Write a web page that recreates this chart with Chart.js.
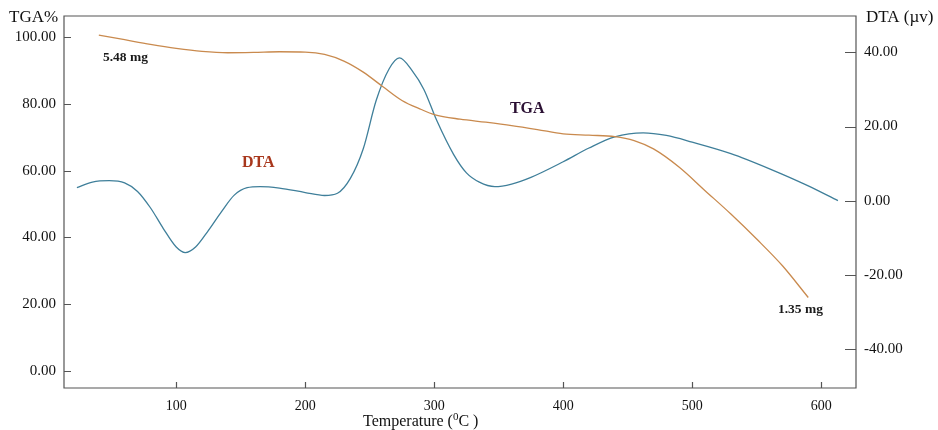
<!DOCTYPE html>
<html><head><meta charset="utf-8">
<script src="https://cdn.jsdelivr.net/npm/chart.js@4/dist/chart.umd.min.js"></script>
<style>html,body{margin:0;padding:0;background:#fff}#wrap{width:938px;height:430px;position:relative}</style>
</head><body><div id="wrap"><canvas id="c" width="938" height="430"></canvas></div>
<script>
const tgaTemp = [40,60,80,100,120,140,160,180,200,215,230,245,260,275,290,300,320,340,360,380,400,420,440,455,470,490,510,530,550,570,590];
const tgaVals = [100.6,99.2,97.8,96.6,95.7,95.3,95.4,95.6,95.5,94.8,92.8,89.5,85.2,81,78.3,76.8,75.4,74.5,73.5,72.3,71,70.6,70.2,69,66.5,61,54,47,39.5,31.5,22];
const dtaTemp = [23,35,48,60,70,80,90,100,107,115,125,135,145,155,165,180,200,215,225,235,245,255,265,273,283,292,302,315,325,335,347,360,375,400,420,440,462,480,500,530,560,590,613];
const dtaVals = [3.5,5,5.4,4.8,2.5,-1.9,-7.5,-12.5,-14,-12.5,-8,-3,1.5,3.5,3.8,3.4,2.2,1.4,2.0,6,14,27,35.5,38.5,35,30,21.6,12.5,7.5,5,3.8,4.5,6.3,10.5,14.2,17.2,18.3,17.6,15.8,12.7,8.6,4,0];
const xTicks = [100,200,300,400,500,600];
const leftTicks = [0,20,40,60,80,100];
const rightTicks = [-40,-20,0,20,40];
const notes = [
  {text:'5.48 mg', x:43.2, y:94, color:'#1a1a1a', size:13.5},
  {text:'DTA', x:151, y:62.3, color:'#a8371c', size:16},
  {text:'TGA', x:358.7, y:78.4, color:'#2b1033', size:16},
  {text:'1.35 mg', x:566.5, y:18.3, color:'#1a1a1a', size:13.5}
];

const SERIF = '"Liberation Serif","Times New Roman",serif';

const decor = {
  id:'decor',
  afterDraw(chart){
    const ctx = chart.ctx, a = chart.chartArea;
    const sx = chart.scales.x, sl = chart.scales.y, sr = chart.scales.y1;
    ctx.save();
    ctx.strokeStyle = '#555'; ctx.lineWidth = 1.2;
    ctx.beginPath();
    ctx.rect(a.left, a.top, a.right - a.left, a.bottom - a.top);
    ctx.stroke();
    ctx.beginPath();
    leftTicks.forEach(v=>{const y=Math.round(sl.getPixelForValue(v))+0.5; ctx.moveTo(a.left,y); ctx.lineTo(a.left+7,y);});
    rightTicks.forEach(v=>{const y=Math.round(sr.getPixelForValue(v))+0.5; ctx.moveTo(a.right,y); ctx.lineTo(a.right-11,y);});
    xTicks.forEach(v=>{const x=Math.round(sx.getPixelForValue(v))+0.5; ctx.moveTo(x,a.bottom); ctx.lineTo(x,a.bottom-6);});
    ctx.stroke();
    // annotations
    ctx.textBaseline = 'middle'; ctx.textAlign = 'left';
    notes.forEach(n=>{
      ctx.fillStyle = n.color;
      ctx.font = 'bold ' + n.size + 'px ' + SERIF;
      ctx.fillText(n.text, sx.getPixelForValue(n.x), sl.getPixelForValue(n.y));
    });
    // axis titles
    ctx.fillStyle = '#111';
    ctx.font = '17px ' + SERIF;
    ctx.fillText('TGA%', 9, 18);
    ctx.fillText('DTA (\u00b5v)', 866, 18);
    // x title with superscript
    ctx.font = '16px ' + SERIF;
    let x0 = 363, y0 = 422;
    const p1 = 'Temperature (';
    ctx.fillText(p1, x0, y0); x0 += ctx.measureText(p1).width;
    ctx.font = '11px ' + SERIF;
    ctx.fillText('0', x0, y0-5); x0 += ctx.measureText('0').width;
    ctx.font = '16px ' + SERIF;
    ctx.fillText('C )', x0, y0);
    ctx.restore();
  }
};

new Chart(document.getElementById('c'), {
  type:'line',
  data:{datasets:[
    {label:'TGA', yAxisID:'y', data: tgaTemp.map((t,i)=>({x:t,y:tgaVals[i]})), borderColor:'#c98a4e', borderWidth:1.3, pointRadius:0, tension:0.4, cubicInterpolationMode:'monotone', fill:false},
    {label:'DTA', yAxisID:'y1', data: dtaTemp.map((t,i)=>({x:t,y:dtaVals[i]})), borderColor:'#3f7f9a', borderWidth:1.3, pointRadius:0, tension:0.4, cubicInterpolationMode:'monotone', fill:false}
  ]},
  options:{
    responsive:false, animation:false, events:[],
    layout:{padding:{top:16,left:0,right:0,bottom:0}},
    plugins:{legend:{display:false}, tooltip:{enabled:false}},
    scales:{
      x:{type:'linear', min:13, max:627, afterBuildTicks(s){s.ticks = xTicks.map(v=>({value:v}));},
         grid:{display:false}, border:{display:false},
         ticks:{color:'#111', font:{family:SERIF, size:14}, padding:2, maxRotation:0, callback:v=>String(v)},
         afterFit(s){s.height = 42;}},
      y:{position:'left', min:-5.1, max:106.3, afterBuildTicks(s){s.ticks = leftTicks.map(v=>({value:v}));},
         grid:{display:false}, border:{display:false},
         ticks:{color:'#111', font:{family:SERIF, size:15}, padding:0, callback:v=>v.toFixed(2)},
         afterFit(s){s.width = 64;}},
      y1:{position:'right', min:-50.5, max:49.8, afterBuildTicks(s){s.ticks = rightTicks.map(v=>({value:v}));},
         grid:{display:false}, border:{display:false},
         ticks:{color:'#111', font:{family:SERIF, size:15}, padding:0, callback:v=>v.toFixed(2)},
         afterFit(s){s.width = 82;}}
    }
  },
  plugins:[decor]
});
</script></body></html>
